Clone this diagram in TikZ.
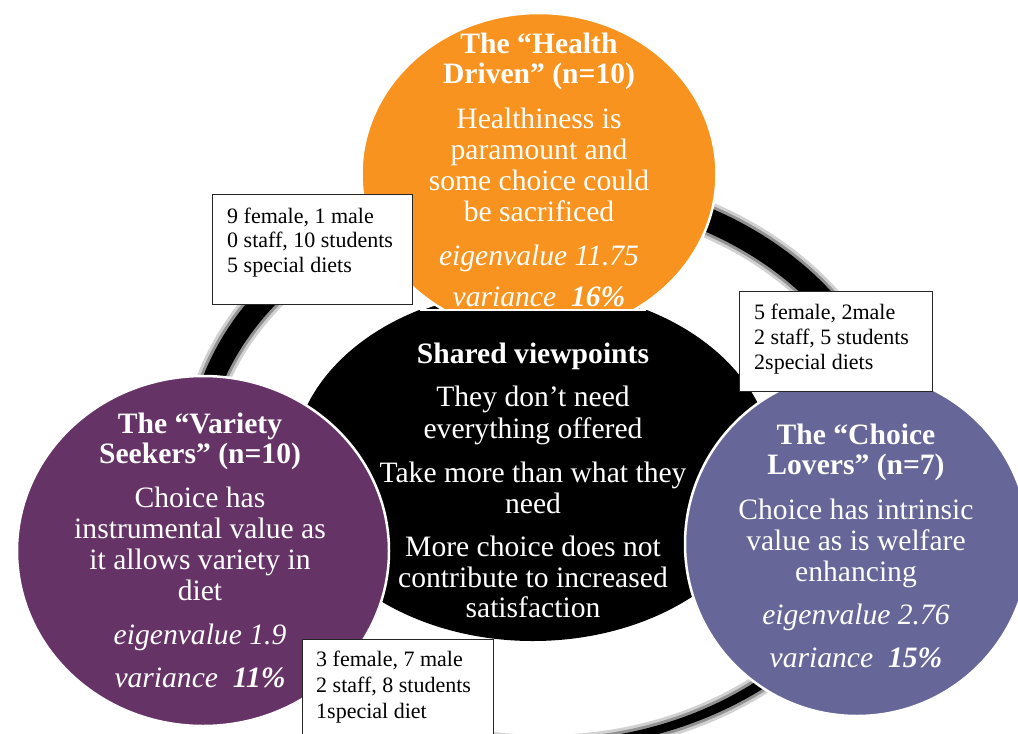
\documentclass[tikz,border=0pt]{standalone}
\usepackage{fontspec}
\setmainfont{Liberation Serif}
\usetikzlibrary{shapes.geometric}
\definecolor{hdorange}{RGB}{247,147,30}
\definecolor{vsplum}{RGB}{102,51,102}
\definecolor{clslate}{RGB}{102,102,153}
\tikzset{
  big/.style={anchor=base, text=white, inner sep=0pt, font=\fontsize{29.6}{31}\selectfont},
  small/.style={anchor=base west, text=black, inner sep=0pt, font=\fontsize{22}{25}\selectfont},
  blob/.style={ellipse, draw=white, line width=2.5pt, inner sep=0pt},
  notebox/.style={rectangle, draw=black!85, line width=1.2pt, fill=white, anchor=north west, inner sep=0pt}
}
\begin{document}
\begin{tikzpicture}[x=1pt,y=-1pt]
\useasboundingbox (0,0) rectangle (1018,734);
\clip (0,0) rectangle (1018,734);

% the cycle ring behind the groups, with a soft rim
\fill[black, opacity=0.18, even odd rule]
  (544,462) ellipse [x radius=363, y radius=293] (544,470) ellipse [x radius=333, y radius=265];
\fill[black, opacity=0.3, even odd rule]
  (544,462) ellipse [x radius=360, y radius=290] (544,470) ellipse [x radius=336, y radius=268];
\fill[black, even odd rule]
  (544,462) ellipse [x radius=357, y radius=287] (544,470) ellipse [x radius=339, y radius=271];

% shared viewpoints
\node[blob, fill=black, minimum width=480pt, minimum height=352pt] (shared) at (533,465) {};
% the health driven group
\node[blob, fill=hdorange, minimum width=355pt, minimum height=322pt] (health) at (539,174) {};
% the shared area overlaps the lower rim of the health group
\begin{scope}
  \clip (0,310) rectangle (1018,734);
  \fill[black] (shared.center) ellipse [x radius=240, y radius=176];
\end{scope}
\draw[white, line width=2pt] (420,310) -- (646,310);
% the two other groups
\node[blob, fill=vsplum, minimum width=372pt, minimum height=350pt] (variety) at (203,551) {};
\node[blob, fill=clslate, minimum width=344pt, minimum height=344pt] (choice) at (857,544) {};

% texts of the shared area
\foreach \y/\t [count=\i] in {363/{\bfseries Shared viewpoints},406/{They don’t need},438/{everything offered},
  482/{Take more than what they},513/{need},556/{More choice does not},587/{contribute to increased},617/{satisfaction}}
  \node[big] (sh\i) at (533,\y) {\t};

% texts of the health driven group
\foreach \y/\t [count=\i] in {53/{\bfseries The “Health},83/{\bfseries Driven” (n=10)},128/{Healthiness is},
  159/{paramount and},190/{some choice could},221/{be sacrificed},265/{\itshape eigenvalue 11.75},
  306/{\itshape variance\ \ \textbf{16\%}}}
  \node[big] (hd\i) at (539,\y) {\t};

% texts of the variety seekers group
\foreach \y/\t [count=\i] in {433/{\bfseries The “Variety},463/{\bfseries Seekers” (n=10)},507/{Choice has},
  538/{instrumental value as},569/{it allows variety in},600/{diet},644/{\itshape eigenvalue 1.9},
  687/{\itshape variance\ \ \textbf{11\%}}}
  \node[big] (vs\i) at (200,\y) {\t};

% texts of the choice lovers group
\foreach \y/\t [count=\i] in {444/{\bfseries The “Choice},474/{\bfseries Lovers” (n=7)},519/{Choice has intrinsic},
  550/{value as is welfare},581/{enhancing},624/{\itshape eigenvalue 2.76},667/{\itshape variance\ \ \textbf{15\%}}}
  \node[big] (cl\i) at (856,\y) {\t};

% sample notes
\node[notebox, minimum width=200pt, minimum height=110pt] (note1) at (212,194) {};
\foreach \y/\t [count=\i] in {223/{9 female, 1 male},247.5/{0 staff, 10 students},272/{5 special diets}}
  \node[small] (na\i) at (227,\y) {\t};

\node[notebox, minimum width=193pt, minimum height=100pt] (note2) at (739,291) {};
\foreach \y/\t [count=\i] in {319/{5 female, 2male},344/{2 staff, 5 students},369/{2special diets}}
  \node[small] (nb\i) at (754,\y) {\t};

\node[notebox, minimum width=191pt, minimum height=110pt] (note3) at (302,639) {};
\foreach \y/\t [count=\i] in {666/{3 female, 7 male},692/{2 staff, 8 students},718/{1special diet}}
  \node[small] (nc\i) at (316,\y) {\t};
\end{tikzpicture}
\end{document}
